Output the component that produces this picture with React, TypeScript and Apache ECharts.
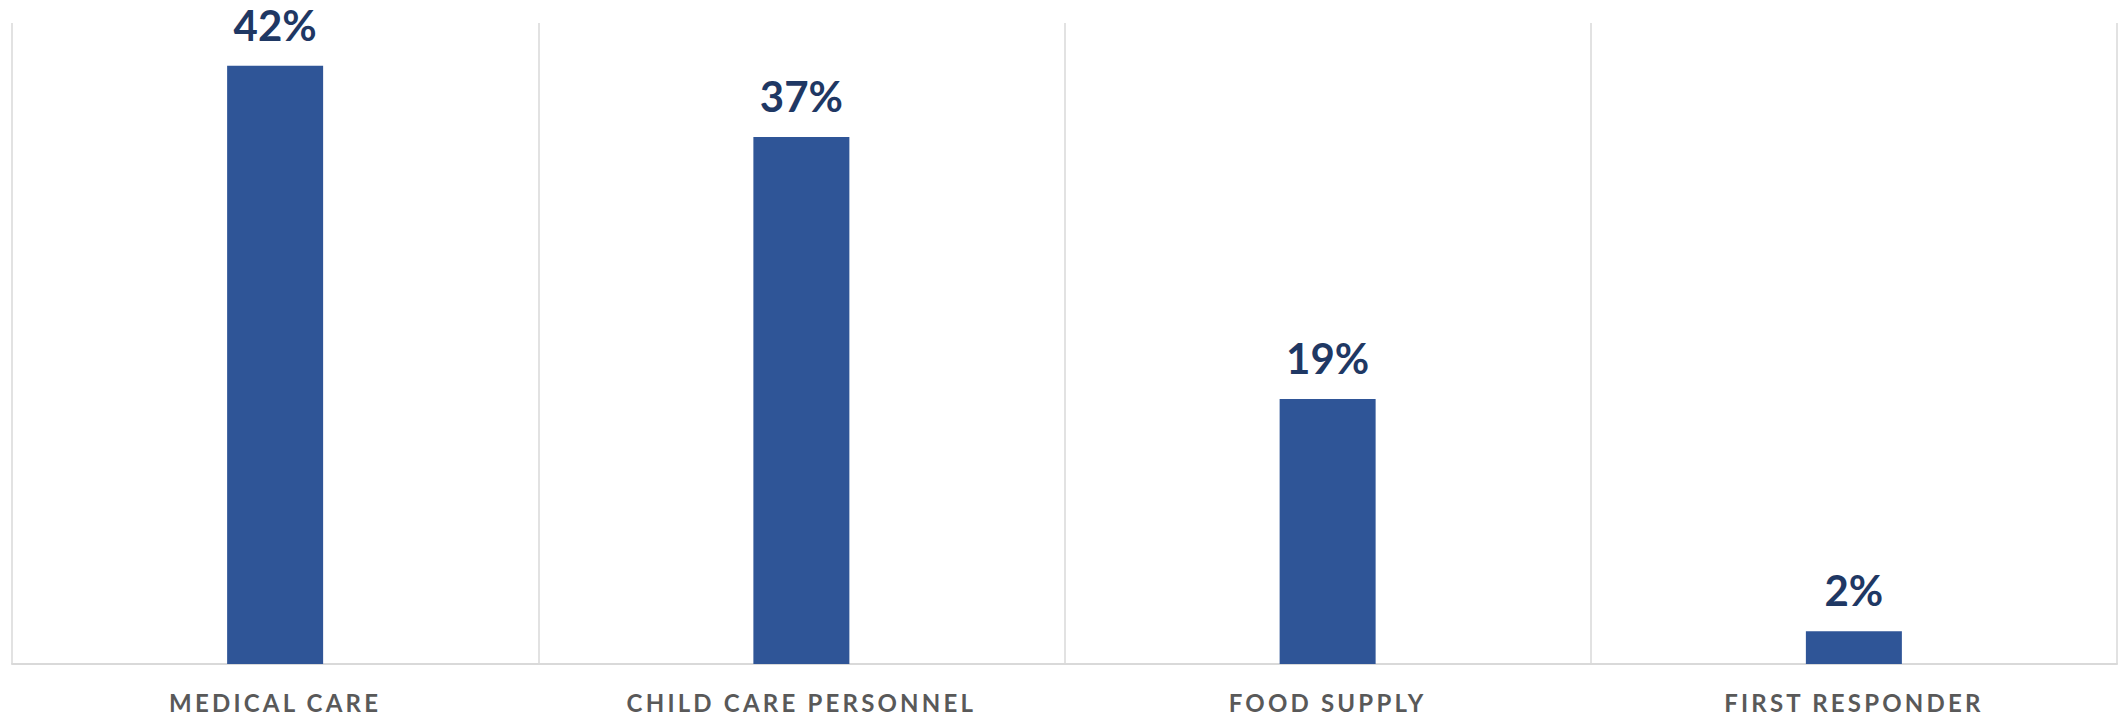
import React, { useEffect, useRef } from "react";
import * as echarts from "echarts";

const categories = ["MEDICAL CARE", "CHILD CARE PERSONNEL", "FOOD SUPPLY", "FIRST RESPONDER"];
const values = [42, 37, 18.6, 2.3];

const css = `
#chart text[fill="#595959"], #chart text[fill="rgb(89,89,89)"], #chart text[fill="rgb(89, 89, 89)"] { letter-spacing: 3.2px; }
`;

export default function App() {
  const ref = useRef<HTMLDivElement>(null);
  useEffect(() => {
    if (!ref.current) return;
    const chart = echarts.init(ref.current, undefined, { renderer: "svg" });
    chart.setOption({
      animation: false,
      backgroundColor: "#FFFFFF",
      grid: { left: 12, right: 1, top: 23, bottom: 52, containLabel: false },
      xAxis: {
        type: "category",
        data: categories,
        axisLine: { show: true, lineStyle: { color: "#D9D9D9", width: 2 } },
        axisTick: { show: false },
        splitLine: { show: true, lineStyle: { color: "#D9D9D9", width: 1.5 } },
        axisLabel: {
          color: "#595959",
          fontFamily: "Lato",
          fontWeight: "bold",
          fontSize: 24,
          margin: 26,
        },
      },
      yAxis: {
        type: "value",
        min: 0,
        max: 45,
        show: false,
        splitLine: { show: false },
      },
      series: [
        {
          type: "bar",
          data: values,
          barWidth: 96,
          itemStyle: { color: "#2F5597" },
          label: {
            show: true,
            position: "top",
            distance: 20,
            color: "#1F3864",
            fontFamily: "Lato",
            fontWeight: "bold",
            fontSize: 42,
            formatter: (p: any) => Math.round(p.value) + "%",
          },
        },
      ],
    });
    return () => chart.dispose();
  }, []);
  return (
    <>
      <style>{css}</style>
      <div
        id="chart"
        ref={ref}
        style={{ position: "absolute", left: 0, top: 0, width: 2118, height: 716 }}
      />
    </>
  );
}
